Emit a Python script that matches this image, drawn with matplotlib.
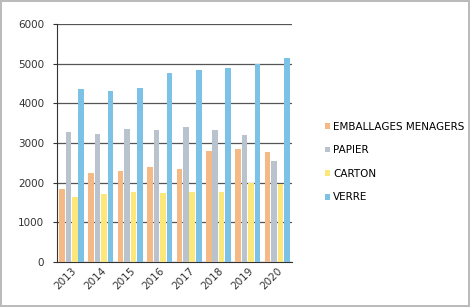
import numpy as np
import matplotlib.pyplot as plt

# values
years = ['2013', '2014', '2015', '2016', '2017', '2018', '2019', '2020']
emballages = [1850, 2250, 2300, 2400, 2330, 2800, 2850, 2780]
papier = [3280, 3230, 3350, 3320, 3400, 3330, 3200, 2550]
carton = [1640, 1720, 1760, 1740, 1760, 1750, 2000, 1970]
verre = [4370, 4310, 4390, 4760, 4850, 4900, 5000, 5130]

series = [('EMBALLAGES MENAGERS', emballages, '#F5B985'),
          ('PAPIER', papier, '#B9C3CE'),
          ('CARTON', carton, '#FBE77A'),
          ('VERRE', verre, '#7CC2E6')]

fig = plt.figure(figsize=(4.70, 3.07), dpi=100)
fig.patch.set_edgecolor('#BBBBBB')
fig.patch.set_linewidth(1.5)
ax = fig.add_axes([0.121, 0.147, 0.500, 0.775])

x = np.arange(len(years))
w = 0.19
for i, (name, vals, col) in enumerate(series):
    ax.bar(x + (i - 1.5) * (w + 0.03), vals, w, color=col, label=name, zorder=3)

ax.set_ylim(0, 6000)
ax.set_xlim(-0.5, len(years) - 0.5)
ax.set_yticks(range(0, 6001, 1000))
ax.set_xticks(x)
ax.set_xticklabels(years, rotation=45, ha='right', rotation_mode='anchor')
ax.tick_params(axis='both', labelsize=7.5, colors='#333333', length=3)
ax.tick_params(axis='y', pad=6)
ax.tick_params(axis='x', length=0, pad=3)
ax.yaxis.grid(True, color='#555555', linewidth=0.9, zorder=0)
for s in ['top', 'right']:
    ax.spines[s].set_visible(False)
ax.spines['left'].set_color('#333333')
ax.spines['bottom'].set_color('#333333')

ax.legend(loc='center left', bbox_to_anchor=(1.1, 0.42), frameon=False,
          fontsize=7.5, handlelength=0.5, handleheight=0.5, handletextpad=0.3,
          labelspacing=1.3)

fig.savefig('out.png', dpi=100)
